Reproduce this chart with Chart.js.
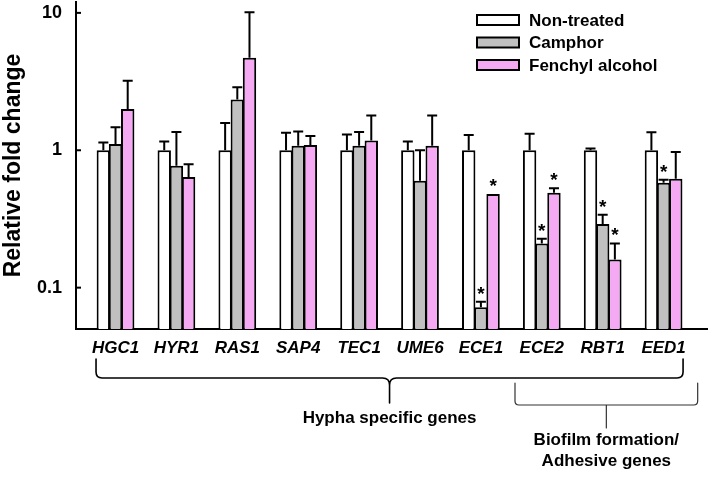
<!DOCTYPE html>
<html>
<head>
<meta charset="utf-8">
<script src="https://cdn.jsdelivr.net/npm/chart.js@4.4.0/dist/chart.umd.min.js"></script>
<style>
  html, body { margin: 0; padding: 0; background: #fff; }
  #wrap { width: 709px; height: 480px; }
</style>
</head>
<body>
<div id="wrap"><canvas id="chart" width="709" height="480"></canvas></div>
<script>
// gene names on the x axis
const genes = ["HGC1", "HYR1", "RAS1", "SAP4", "TEC1", "UME6", "ECE1", "ECE2", "RBT1", "EED1"];
const seriesNames = ["Non-treated", "Camphor", "Fenchyl alcohol"];

// relative fold change (bar heights)
const nonTreated = [1, 1, 1, 1, 1, 1, 1, 1, 1, 1];
const camphor = [1.11, 0.77, 2.34, 1.08, 1.08, 0.60, 0.072, 0.21, 0.29, 0.58];
const fenchyl = [2.0, 0.64, 4.72, 1.09, 1.18, 1.08, 0.48, 0.49, 0.16, 0.62];

// top of the error bar for each bar
const nonTreatedErr = [1.14, 1.16, 1.58, 1.34, 1.30, 1.16, 1.29, 1.32, 1.03, 1.35];
const camphorErr = [1.47, 1.36, 2.87, 1.37, 1.36, 1.0, 0.079, 0.227, 0.34, 0.61];
const fenchylErr = [3.2, 0.79, 10.1, 1.27, 1.79, 1.79, 0.48, 0.53, 0.21, 0.97];

// significance marks (*)
const nonTreatedSig = [0, 0, 0, 0, 0, 0, 0, 0, 0, 0];
const camphorSig = [0, 0, 0, 0, 0, 0, 1, 1, 1, 1];
const fenchylSig = [0, 0, 0, 0, 0, 0, 1, 1, 1, 0];

const yTicks = [0.1, 1, 10];

const colors = ["#ffffff", "#c0c0c0", "#f5a9f3"];
const FONT = "'Liberation Sans', Arial, Helvetica, sans-serif";

const errs = [nonTreatedErr, camphorErr, fenchylErr];
const sigs = [nonTreatedSig, camphorSig, fenchylSig];

function toPoints(arr) {
  return arr.map((v, i) => ({ x: i, y: v }));
}

// error bars, stars, inner y ticks
const extrasPlugin = {
  id: "extras",
  afterDatasetsDraw(chart) {
    const ctx = chart.ctx;
    const y = chart.scales.y;
    ctx.save();
    ctx.strokeStyle = "#000";
    ctx.fillStyle = "#000";
    ctx.lineWidth = 2;
    chart.data.datasets.forEach((ds, di) => {
      const meta = chart.getDatasetMeta(di);
      meta.data.forEach((bar, i) => {
        const top = y.getPixelForValue(ds.data[i].y);
        const et = y.getPixelForValue(errs[di][i]);
        let markY = top;
        if (et < top - 0.5) {
          ctx.beginPath();
          ctx.moveTo(bar.x, top);
          ctx.lineTo(bar.x, et);
          ctx.moveTo(bar.x - 5, et);
          ctx.lineTo(bar.x + 5, et);
          ctx.stroke();
          markY = et;
        }
        if (sigs[di][i]) {
          ctx.font = "bold 19px " + FONT;
          ctx.textAlign = "center";
          ctx.textBaseline = "alphabetic";
          ctx.fillText("*", bar.x, markY - 2);
        }
      });
    });
    // inner ticks on the y axis
    const left = chart.chartArea.left;
    yTicks.forEach(v => {
      const py = y.getPixelForValue(v);
      ctx.beginPath();
      ctx.moveTo(left, py);
      ctx.lineTo(left + 5, py);
      ctx.stroke();
    });
    ctx.restore();
  }
};

// legend in the upper right
const legendPlugin = {
  id: "boxLegend",
  afterDraw(chart) {
    const ctx = chart.ctx;
    ctx.save();
    ctx.font = "bold 17px " + FONT;
    ctx.textBaseline = "middle";
    ctx.textAlign = "left";
    seriesNames.forEach((name, i) => {
      const cy = 20 + i * 22.5;
      ctx.fillStyle = colors[i];
      ctx.fillRect(477, cy - 5, 42, 10);
      ctx.strokeStyle = "#000";
      ctx.lineWidth = 2;
      ctx.strokeRect(477, cy - 5, 42, 10);
      ctx.fillStyle = "#000";
      ctx.fillText(name, 529, cy + 1);
    });
    ctx.restore();
  }
};

// gene group braces under the axis
const bracePlugin = {
  id: "braces",
  afterDraw(chart) {
    const ctx = chart.ctx;
    const x = chart.scales.x;
    ctx.save();
    ctx.strokeStyle = "#000";
    ctx.lineCap = "round";

    // Hypha specific genes
    let L = x.getPixelForValue(-0.32), R = x.getPixelForValue(9.32), M = (L + R) / 2;
    ctx.lineWidth = 1.6;
    ctx.beginPath();
    ctx.moveTo(L, 359);
    ctx.lineTo(L, 372);
    ctx.quadraticCurveTo(L, 378, L + 6, 378);
    ctx.lineTo(M - 7, 378);
    ctx.quadraticCurveTo(M, 378, M, 385);
    ctx.lineTo(M, 403);
    ctx.moveTo(M, 385);
    ctx.quadraticCurveTo(M, 378, M + 7, 378);
    ctx.lineTo(R - 6, 378);
    ctx.quadraticCurveTo(R, 378, R, 372);
    ctx.lineTo(R, 359);
    ctx.stroke();

    // Biofilm formation / adhesive genes
    let L2 = x.getPixelForValue(6.56), R2 = x.getPixelForValue(9.56), M2 = (L2 + R2) / 2;
    ctx.lineWidth = 1.2;
    ctx.strokeStyle = "#333";
    ctx.beginPath();
    ctx.moveTo(L2, 383);
    ctx.lineTo(L2, 401);
    ctx.quadraticCurveTo(L2, 405, L2 + 4, 405);
    ctx.lineTo(R2 - 4, 405);
    ctx.quadraticCurveTo(R2, 405, R2, 401);
    ctx.lineTo(R2, 383);
    ctx.moveTo(M2, 405);
    ctx.lineTo(M2, 428);
    ctx.stroke();

    ctx.fillStyle = "#000";
    ctx.font = "bold 17px " + FONT;
    ctx.textAlign = "center";
    ctx.textBaseline = "middle";
    ctx.fillText("Hypha specific genes", M, 418);
    ctx.fillText("Biofilm formation/", M2, 440);
    ctx.fillText("Adhesive genes", M2, 461);
    ctx.restore();
  }
};

new Chart(document.getElementById("chart"), {
  type: "bar",
  data: {
    datasets: [nonTreated, camphor, fenchyl].map((vals, i) => ({
      label: seriesNames[i],
      data: toPoints(vals),
      backgroundColor: colors[i],
      borderColor: "#000",
      borderWidth: 2,
      categoryPercentage: 0.6,
      barPercentage: 1.1
    }))
  },
  options: {
    responsive: false,
    animation: false,
    devicePixelRatio: 1,
    layout: { padding: { top: 2, right: 2, left: 0, bottom: 0 } },
    plugins: {
      legend: { display: false },
      tooltip: { enabled: false }
    },
    scales: {
      x: {
        type: "linear",
        offset: false,
        min: -0.649,
        max: 9.713,
        grid: { display: false, offset: false },
        border: { display: true, color: "#000", width: 2 },
        afterBuildTicks(scale) {
          scale.ticks = genes.map((g, i) => ({ value: i }));
        },
        afterFit(scale) {
          scale.height = 151;
          scale.paddingLeft = 0;
          scale.paddingRight = 0;
        },
        ticks: {
          autoSkip: false,
          maxRotation: 0,
          padding: 1,
          color: "#000",
          font: { family: FONT, size: 17, weight: "bold", style: "italic" },
          callback: v => genes[v]
        }
      },
      y: {
        type: "logarithmic",
        min: 0.05,
        max: 12,
        grid: { display: false },
        border: { display: true, color: "#000", width: 2 },
        afterBuildTicks(scale) {
          scale.ticks = yTicks.map(v => ({ value: v }));
        },
        afterFit(scale) {
          scale.width = 76;
          scale.paddingTop = 0;
          scale.paddingBottom = 0;
        },
        ticks: {
          padding: 6,
          color: "#000",
          font: { family: FONT, size: 18, weight: "bold" },
          callback: v => String(v)
        },
        title: {
          display: true,
          text: "Relative fold change",
          color: "#000",
          padding: { top: 0, bottom: 0 },
          font: { family: FONT, size: 23, weight: "bold" }
        }
      }
    }
  },
  plugins: [extrasPlugin, legendPlugin, bracePlugin]
});
</script>
</body>
</html>
